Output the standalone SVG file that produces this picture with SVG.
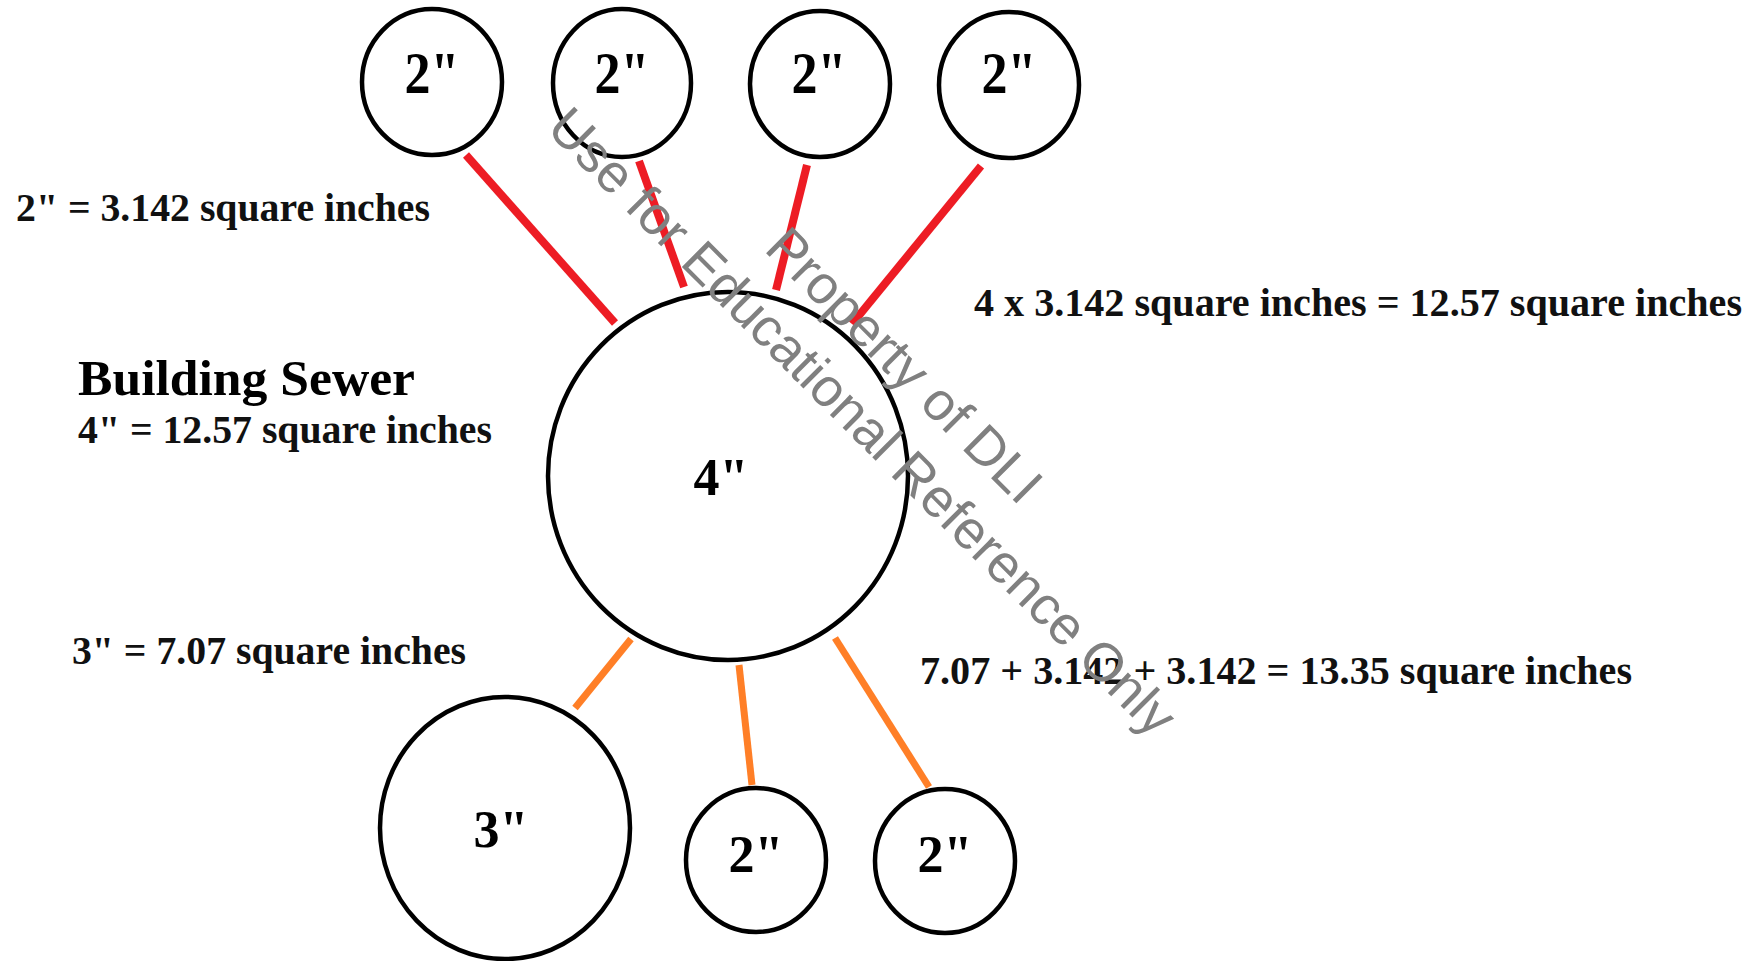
<svg xmlns="http://www.w3.org/2000/svg" width="1753" height="961" viewBox="0 0 1753 961">
<style>
.pipe{fill:#fff;stroke:#000;stroke-width:4.5}
.dia{font-family:"Liberation Serif","Times New Roman",serif;font-weight:bold;font-size:52px;fill:#000;text-anchor:middle}
.lbl{font-family:"Liberation Serif","Times New Roman",serif;font-weight:bold;font-size:40px;fill:#111}
.title{font-family:"Liberation Serif","Times New Roman",serif;font-weight:bold;font-size:50px;fill:#000}
.red{stroke:#ED1C24;stroke-width:8;stroke-linecap:butt}
.orange{stroke:#FF7F27;stroke-width:7;stroke-linecap:butt}
.wm{font-family:"Liberation Sans",Arial,sans-serif;font-size:54px;fill:#808080}
</style>
<rect width="1753" height="961" fill="#fff"/>
<g id="connectors">
<line class="red" x1="466" y1="155" x2="615" y2="323"/>
<line class="red" x1="639" y1="161" x2="684" y2="287"/>
<line class="red" x1="807" y1="165" x2="776" y2="290"/>
<line class="red" x1="981" y1="166" x2="852" y2="324"/>
<line class="orange" x1="631" y1="639" x2="575" y2="708"/>
<line class="orange" x1="739" y1="665" x2="752" y2="785"/>
<line class="orange" x1="835" y1="638" x2="929" y2="787"/>
</g>
<g id="top1"><ellipse class="pipe" cx="432" cy="82" rx="70" ry="73"/><text class="dia" transform="translate(432,93) scale(1,1.13)">2"</text></g>
<g id="top2"><ellipse class="pipe" cx="622" cy="83" rx="69" ry="74"/><text class="dia" transform="translate(622,93) scale(1,1.13)">2"</text></g>
<g id="top3"><ellipse class="pipe" cx="820" cy="84" rx="70" ry="73"/><text class="dia" transform="translate(819,93) scale(1,1.13)">2"</text></g>
<g id="top4"><ellipse class="pipe" cx="1009" cy="85" rx="70" ry="73"/><text class="dia" transform="translate(1009,93) scale(1,1.13)">2"</text></g>
<g id="sewer"><ellipse class="pipe" cx="728" cy="476" rx="180" ry="184"/><text class="dia" x="721" y="495">4"</text></g>
<g id="bottom3"><ellipse class="pipe" cx="505" cy="828" rx="125" ry="131"/><text class="dia" x="501" y="847">3"</text></g>
<g id="bottom2a"><ellipse class="pipe" cx="756" cy="860" rx="70" ry="72"/><text class="dia" x="756" y="872">2"</text></g>
<g id="bottom2b"><ellipse class="pipe" cx="945" cy="861" rx="70" ry="72"/><text class="dia" x="945" y="872">2"</text></g>
<g id="labels">
<text class="lbl" x="16" y="221" textLength="414" lengthAdjust="spacingAndGlyphs">2" = 3.142 square inches</text>
<text class="title" x="78" y="395" textLength="337" lengthAdjust="spacingAndGlyphs">Building Sewer</text>
<text class="lbl" x="78" y="443" textLength="414" lengthAdjust="spacingAndGlyphs">4" = 12.57 square inches</text>
<text class="lbl" x="974" y="316" textLength="768" lengthAdjust="spacingAndGlyphs">4  x 3.142 square inches = 12.57 square inches</text>
<text class="lbl" x="72" y="664" textLength="394" lengthAdjust="spacingAndGlyphs">3" = 7.07 square inches</text>
<text class="lbl" x="920" y="684" textLength="712" lengthAdjust="spacingAndGlyphs">7.07 + 3.142 + 3.142 = 13.35 square inches</text>
</g>
<g id="watermark">
<text class="wm" transform="translate(545,130) rotate(45)">Use for Educational Reference Only</text>
<text class="wm" transform="translate(763,250) rotate(45)">Property of DLI</text>
</g>
</svg>
